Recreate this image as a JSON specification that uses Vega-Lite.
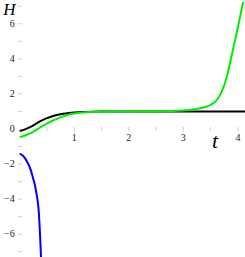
{
  "$schema": "https://vega.github.io/schema/vega-lite/v6.json",
  "width": 245,
  "height": 257,
  "autosize": {"type": "fit", "contains": "padding"},
  "padding": 0,
  "config": {"view": {"stroke": null}},
  "datasets": {
    "curves": [
      {"s": "black", "t": 0, "H": -0.12}, {"s": "black", "t": 0.1, "H": -0.02}, {"s": "black", "t": 0.2, "H": 0.12},
      {"s": "black", "t": 0.3, "H": 0.3}, {"s": "black", "t": 0.4, "H": 0.48}, {"s": "black", "t": 0.5, "H": 0.62},
      {"s": "black", "t": 0.6, "H": 0.73}, {"s": "black", "t": 0.7, "H": 0.81}, {"s": "black", "t": 0.8, "H": 0.87},
      {"s": "black", "t": 0.9, "H": 0.91}, {"s": "black", "t": 1.0, "H": 0.94}, {"s": "black", "t": 1.2, "H": 0.97},
      {"s": "black", "t": 1.5, "H": 0.99}, {"s": "black", "t": 2.0, "H": 1.0}, {"s": "black", "t": 3.0, "H": 1.0},
      {"s": "black", "t": 4.2, "H": 1.0},
      {"s": "blue", "t": 0, "H": -1.4}, {"s": "blue", "t": 0.05, "H": -1.5}, {"s": "blue", "t": 0.1, "H": -1.68},
      {"s": "blue", "t": 0.15, "H": -1.95}, {"s": "blue", "t": 0.2, "H": -2.3}, {"s": "blue", "t": 0.25, "H": -2.85},
      {"s": "blue", "t": 0.28, "H": -3.2}, {"s": "blue", "t": 0.3, "H": -3.55}, {"s": "blue", "t": 0.33, "H": -4.1},
      {"s": "blue", "t": 0.35, "H": -4.7}, {"s": "blue", "t": 0.36, "H": -5.2}, {"s": "blue", "t": 0.375, "H": -6.1},
      {"s": "blue", "t": 0.39, "H": -7.2}, {"s": "blue", "t": 0.4, "H": -7.8},
      {"s": "green", "t": 0, "H": -0.47}, {"s": "green", "t": 0.1, "H": -0.37}, {"s": "green", "t": 0.2, "H": -0.24},
      {"s": "green", "t": 0.3, "H": -0.06}, {"s": "green", "t": 0.4, "H": 0.13}, {"s": "green", "t": 0.5, "H": 0.31},
      {"s": "green", "t": 0.6, "H": 0.47}, {"s": "green", "t": 0.7, "H": 0.6}, {"s": "green", "t": 0.8, "H": 0.72},
      {"s": "green", "t": 0.9, "H": 0.82}, {"s": "green", "t": 1.0, "H": 0.88}, {"s": "green", "t": 1.1, "H": 0.92},
      {"s": "green", "t": 1.2, "H": 0.95}, {"s": "green", "t": 1.4, "H": 0.98}, {"s": "green", "t": 1.7, "H": 0.99},
      {"s": "green", "t": 2.0, "H": 1.0}, {"s": "green", "t": 2.5, "H": 1.01}, {"s": "green", "t": 2.8, "H": 1.02},
      {"s": "green", "t": 3.0, "H": 1.05}, {"s": "green", "t": 3.2, "H": 1.12}, {"s": "green", "t": 3.4, "H": 1.25},
      {"s": "green", "t": 3.5, "H": 1.38}, {"s": "green", "t": 3.6, "H": 1.6}, {"s": "green", "t": 3.7, "H": 2.1},
      {"s": "green", "t": 3.8, "H": 3.0}, {"s": "green", "t": 3.9, "H": 4.4}, {"s": "green", "t": 4.0, "H": 5.8},
      {"s": "green", "t": 4.1, "H": 7.3}, {"s": "green", "t": 4.15, "H": 8.1}
    ],
    "xticks": [{"v": 0.5}, {"v": 1}, {"v": 1.5}, {"v": 2}, {"v": 2.5}, {"v": 3}, {"v": 3.5}, {"v": 4}],
    "yticks": [{"v": -7}, {"v": -6}, {"v": -5}, {"v": -4}, {"v": -3}, {"v": -2}, {"v": -1}, {"v": 1}, {"v": 2}, {"v": 3}, {"v": 4}, {"v": 5}, {"v": 6}, {"v": 7}],
    "xlabels": [{"v": 1, "lab": "1"}, {"v": 2, "lab": "2"}, {"v": 3, "lab": "3"}, {"v": 4, "lab": "4"}],
    "ylabels": [{"v": 6, "lab": "6"}, {"v": 4, "lab": "4"}, {"v": 2, "lab": "2"}, {"v": 0, "lab": "0"}, {"v": -2, "lab": "−2"}, {"v": -4, "lab": "−4"}, {"v": -6, "lab": "−6"}],
    "yname": [{"lab": "H", "t": -0.19, "H": 6.79}],
    "xname": [{"lab": "t", "t": 3.58, "H": -0.68}]
  },
  "layer": [
    {
      "data": {"name": "xticks"},
      "mark": {"type": "tick", "orient": "vertical", "color": "#bbbbbb", "size": 4, "thickness": 1},
      "encoding": {
        "x": {"field": "v", "type": "quantitative", "scale": {"domain": [-0.36, 4.13], "nice": false, "zero": false}, "axis": null},
        "y": {"datum": 0, "type": "quantitative", "scale": {"domain": [-7.3, 7.24], "nice": false, "zero": false}, "axis": null}
      }
    },
    {
      "data": {"name": "yticks"},
      "mark": {"type": "tick", "orient": "horizontal", "color": "#bbbbbb", "size": 4, "thickness": 1},
      "encoding": {
        "y": {"field": "v", "type": "quantitative", "scale": {"domain": [-7.3, 7.24], "nice": false, "zero": false}, "axis": null},
        "x": {"datum": 0, "type": "quantitative", "scale": {"domain": [-0.36, 4.13], "nice": false, "zero": false}, "axis": null}
      }
    },
    {
      "mark": {"type": "rule", "color": "#555555", "strokeWidth": 1.5},
      "encoding": {
        "y": {"datum": 0, "type": "quantitative", "scale": {"domain": [-7.3, 7.24], "nice": false, "zero": false}, "axis": null},
        "x": {"datum": -0.12, "type": "quantitative", "scale": {"domain": [-0.36, 4.13], "nice": false, "zero": false}, "axis": null},
        "x2": {"datum": 4.13}
      }
    },
    {
      "mark": {"type": "rule", "color": "#555555", "strokeWidth": 1.5},
      "encoding": {
        "x": {"datum": 0, "type": "quantitative", "scale": {"domain": [-0.36, 4.13], "nice": false, "zero": false}, "axis": null}
      }
    },
    {
      "data": {"name": "curves"},
      "mark": {"type": "line", "strokeWidth": 2, "clip": true, "interpolate": "monotone"},
      "encoding": {
        "x": {"field": "t", "type": "quantitative", "scale": {"domain": [-0.36, 4.13], "nice": false, "zero": false}, "axis": null},
        "y": {"field": "H", "type": "quantitative", "scale": {"domain": [-7.3, 7.24], "nice": false, "zero": false}, "axis": null},
        "color": {"field": "s", "type": "nominal", "scale": {"domain": ["black", "blue", "green"], "range": ["#000000", "#0000ff", "#00ee00"]}, "legend": null}
      }
    },
    {
      "data": {"name": "xlabels"},
      "mark": {"type": "text", "font": "Liberation Serif", "fontSize": 10, "color": "#222222", "baseline": "top", "dy": 4},
      "encoding": {
        "x": {"field": "v", "type": "quantitative", "scale": {"domain": [-0.36, 4.13], "nice": false, "zero": false}, "axis": null},
        "y": {"datum": 0, "type": "quantitative", "scale": {"domain": [-7.3, 7.24], "nice": false, "zero": false}, "axis": null},
        "text": {"field": "lab"}
      }
    },
    {
      "data": {"name": "ylabels"},
      "mark": {"type": "text", "font": "Liberation Serif", "fontSize": 10, "color": "#222222", "align": "right", "baseline": "middle", "dx": -5},
      "encoding": {
        "y": {"field": "v", "type": "quantitative", "scale": {"domain": [-7.3, 7.24], "nice": false, "zero": false}, "axis": null},
        "x": {"datum": 0, "type": "quantitative", "scale": {"domain": [-0.36, 4.13], "nice": false, "zero": false}, "axis": null},
        "text": {"field": "lab"}
      }
    },
    {
      "data": {"name": "yname"},
      "mark": {"type": "text", "font": "Liberation Serif", "fontStyle": "italic", "fontSize": 17, "color": "#000000", "align": "center", "baseline": "middle"},
      "encoding": {
        "x": {"field": "t", "type": "quantitative", "scale": {"domain": [-0.36, 4.13], "nice": false, "zero": false}, "axis": null},
        "y": {"field": "H", "type": "quantitative", "scale": {"domain": [-7.3, 7.24], "nice": false, "zero": false}, "axis": null},
        "text": {"field": "lab"}
      }
    },
    {
      "data": {"name": "xname"},
      "mark": {"type": "text", "font": "Liberation Serif", "fontStyle": "italic", "fontSize": 22, "color": "#000000", "align": "center", "baseline": "middle"},
      "encoding": {
        "x": {"field": "t", "type": "quantitative", "scale": {"domain": [-0.36, 4.13], "nice": false, "zero": false}, "axis": null},
        "y": {"field": "H", "type": "quantitative", "scale": {"domain": [-7.3, 7.24], "nice": false, "zero": false}, "axis": null},
        "text": {"field": "lab"}
      }
    }
  ]
}
